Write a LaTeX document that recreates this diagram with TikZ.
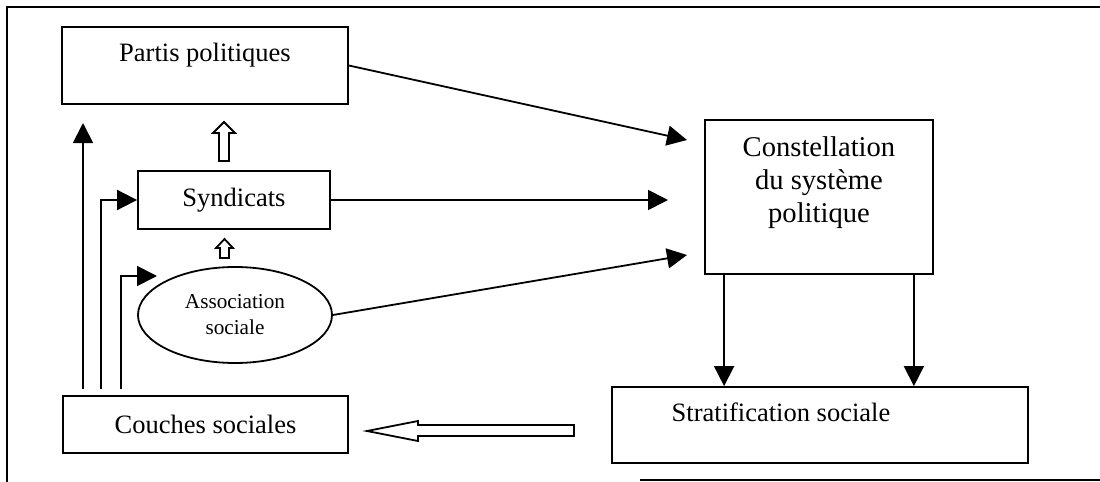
\documentclass[tikz,border=0pt]{standalone}
\usepackage{fontspec}
\setmainfont{Liberation Serif}
\usetikzlibrary{arrows.meta,shapes.geometric,calc}
\begin{document}
\begin{tikzpicture}[x=0.5pt,y=-0.5pt,line width=0.9pt,
  box/.style={draw,rectangle,inner sep=0pt,font=\fontsize{13.25}{16}\selectfont},
  oval/.style={draw,ellipse,inner sep=0pt,align=center,font=\fontsize{10.6}{13}\selectfont},
  arr/.style={-{Triangle[length=10pt,width=10pt]}},
  hollow/.style={draw,fill=white,line width=0.9pt,line join=miter}]
\useasboundingbox (0,0) rectangle (1100,482);
% frame
\draw (7,482) -- (7,7) -- (1100,7);
\draw (640,480) -- (1100,480);
% nodes
\node[box,minimum width=143pt,minimum height=38.5pt] (partis) at (205,65.5)
  {\raisebox{2pt}[0pt][0pt]{Partis politiques}};
\node[box,minimum width=96pt,minimum height=29pt] (synd) at (234,200) {Syndicats};
\node[oval,minimum width=97pt,minimum height=48pt] (assoc) at (235,315) {Association\\sociale};
\node[box,minimum width=142.5pt,minimum height=28.5pt] (couches) at (205.5,424.5) {Couches sociales};
\node[box,minimum width=114pt,minimum height=77pt,font=\fontsize{14.3}{16.5}\selectfont] (const) at (819,197)
  {\raisebox{3.4pt}[0pt][0pt]{\begin{tabular}[c]{@{}c@{}}Constellation\\du système\\politique\end{tabular}}};
\node[box,minimum width=208pt,minimum height=38pt] (strat) at (820,425)
  {\raisebox{1.7pt}[0pt][0pt]{\makebox[0pt]{\hspace{-39pt}Stratification sociale}}};
% free ends
\coordinate (t1) at (687,140);
\coordinate (t2) at (668,200);
\coordinate (t3) at (687,255);
\coordinate (up1) at (83,123);
\coordinate (v2) at (101,0);
\coordinate (t4) at (157,276);
\coordinate (v3) at (121,0);
% connectors
\draw[arr] (partis.east) -- (t1);
\draw[arr] (synd.east) -- (t2);
\draw[arr] (assoc.east) -- (t3);
\draw[arr] ([xshift=10pt]const.south west) -- ([xshift=10pt]const.south west |- strat.north);
\draw[arr] ([xshift=-10pt]const.south east) -- ([xshift=-10pt]const.south east |- strat.north);
\draw[arr] ([yshift=3pt]couches.north -| up1) -- (up1);
\draw[arr] ([yshift=3pt]couches.north -| v2) |- (synd.west);
\draw[arr] ([yshift=3pt]couches.north -| v3) |- (t4);
% hollow arrows
\draw[hollow] (219,161) -- (229,161) -- (229,133) -- (235,133) -- (224,122) -- (213,133) -- (219,133) -- cycle;
\draw[hollow] (220,258) -- (229,258) -- (229,248) -- (233,248) -- (224.5,239) -- (216,248) -- (220,248) -- cycle;
\draw[hollow] (574,425) -- (574,436) -- (418,436) -- (418,441) -- (367,431) -- (418,421) -- (418,425) -- cycle;
\end{tikzpicture}
\end{document}
